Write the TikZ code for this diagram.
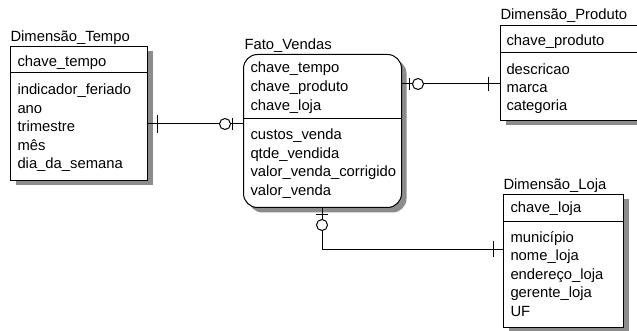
\documentclass[tikz,border=0pt]{standalone}
\usepackage{fontspec}
\setmainfont{Liberation Sans}
\usetikzlibrary{shadows}
\begin{document}
\begin{tikzpicture}[x=1pt, y=-1pt, line width=1pt,
  every node/.style={font=\fontsize{14.8}{17}\selectfont, inner sep=0pt},
  ent/.style={draw, fill=white, anchor=north west,
    drop shadow={shadow xshift=5pt, shadow yshift=-5pt, fill=black!45, opacity=1}},
  txt/.style={anchor=base west}]
  \useasboundingbox (0,0) rectangle (637,331);
  % tabelas
  \node[ent, minimum width=137pt, minimum height=134pt] (T) at (10,46) {};
  \node[ent, minimum width=158pt, minimum height=153pt, rounded corners=14pt] (F) at (243,54) {};
  \node[ent, minimum width=170pt, minimum height=95pt] (P) at (500,25) {};
  \node[ent, minimum width=120pt, minimum height=133pt] (L) at (503,194) {};
  \draw ([yshift=-27pt]T.north west) -- ([yshift=-27pt]T.north east);
  \draw ([yshift=-65pt]F.north west) -- ([yshift=-65pt]F.north east);
  \draw ([yshift=-28pt]P.north west) -- ([yshift=-28pt]P.north east);
  \draw ([yshift=-28pt]L.north west) -- ([yshift=-28pt]L.north east);
  % Dimensao_Tempo
  \node[txt] (Tt) at (10,42) {Dimensão\_Tempo};
  \node[txt] (T0) at (17,67) {chave\_tempo};
  \foreach \s [count=\i] in {indicador\_feriado, ano, trimestre, mês, dia\_da\_semana}
    \node[txt] (T\i) at (17,{76.5+18.5*\i}) {\s};
  % Fato_Vendas
  \node[txt] (Ft) at (244,50) {Fato\_Vendas};
  \foreach \s [count=\i] in {chave\_tempo, chave\_produto, chave\_loja}
    \node[txt] (Fk\i) at (250,{54+19*\i}) {\s};
  \foreach \s [count=\i] in {custos\_venda, qtde\_vendida, valor\_venda\_corrigido, valor\_venda}
    \node[txt] (F\i) at (250,{121.5+18.5*\i}) {\s};
  % Dimensao_Produto
  \node[txt] (Pt) at (500,20) {Dimensão\_Produto};
  \node[txt] (P0) at (506,46) {chave\_produto};
  \foreach \s [count=\i] in {descricao, marca, categoria}
    \node[txt] (P\i) at (506,{57+18*\i}) {\s};
  % Dimensao_Loja
  \node[txt] (Lt) at (503,190) {Dimensão\_Loja};
  \node[txt] (L0) at (510,213) {chave\_loja};
  \foreach \s [count=\i] in {município, nome\_loja, endereço\_loja, gerente\_loja, UF}
    \node[txt] (L\i) at (510,{223.5+18.5*\i}) {\s};
  % relacionamentos
  \coordinate (k1) at (243,124); \coordinate (k2) at (401,84); \coordinate (k3) at (322,249);
  \draw (T.east |- k1) -- (k1);
  \draw (157,115) -- (157,133); \draw (232,118) -- (232,130); \draw[fill=white] (225,124) circle (5.5);
  \draw (k2) -- (P.west |- k2);
  \draw (409,78) -- (409,90); \draw[fill=white] (418,84) circle (5.5); \draw (488,77) -- (488,91);
  \draw (F.south -| k3) |- (L.west |- k3);
  \draw (316,215) -- (328,215); \draw[fill=white] (322,225) circle (5.5); \draw (493,241) -- (493,257);
\end{tikzpicture}
\end{document}
